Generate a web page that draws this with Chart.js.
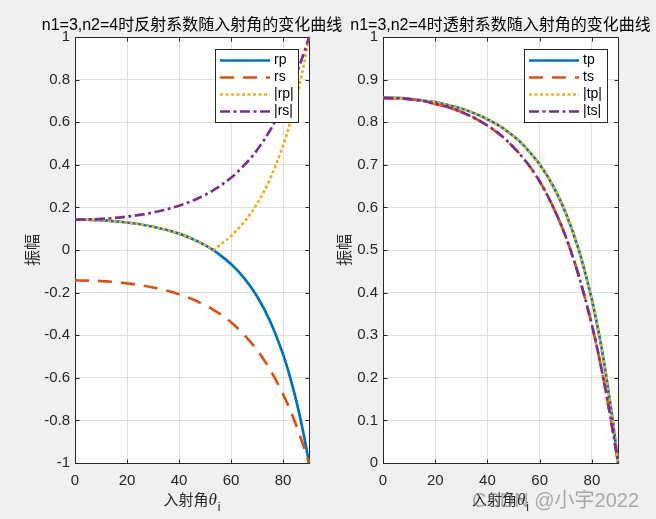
<!DOCTYPE html>
<html><head><meta charset="utf-8">
<script src="https://cdn.jsdelivr.net/npm/chart.js@4/dist/chart.umd.min.js"></script>
<style>
html,body{margin:0;padding:0;background:#f0f0f0;}
#wrap{position:relative;width:656px;height:519px;overflow:hidden;}
canvas{position:absolute;left:0;top:0;}
</style></head><body>
<div id="wrap"><canvas id="c1" width="656" height="519"></canvas><canvas id="c2" width="656" height="519"></canvas></div>
<script>
// ---- data ----
const angles = [0,5,10,15,20,25,30,35,40,45,50,52,53.13,54,55,60,65,70,75,80,82,84,86,88,89,90];
const rp    = [0.143,0.142,0.140,0.135,0.129,0.121,0.109,0.095,0.077,0.053,0.023,0.009,0,-0.007,-0.016,-0.066,-0.131,-0.217,-0.333,-0.489,-0.566,-0.654,-0.754,-0.869,-0.932,-1];
const rs    = [-0.143,-0.144,-0.146,-0.150,-0.157,-0.165,-0.176,-0.190,-0.208,-0.230,-0.259,-0.272,-0.280,-0.287,-0.294,-0.339,-0.397,-0.469,-0.561,-0.676,-0.730,-0.789,-0.854,-0.924,-0.961,-1];
const absRp = [0.143,0.142,0.140,0.135,0.129,0.121,0.109,0.095,0.077,0.053,0.023,0.009,0,0.007,0.016,0.066,0.131,0.217,0.333,0.489,0.566,0.654,0.754,0.869,0.932,1];
const absRs = [0.143,0.144,0.146,0.150,0.157,0.165,0.176,0.190,0.208,0.230,0.259,0.272,0.280,0.287,0.294,0.339,0.397,0.469,0.561,0.676,0.730,0.789,0.854,0.924,0.961,1];
const tp    = [0.857,0.857,0.855,0.851,0.847,0.840,0.832,0.821,0.807,0.790,0.767,0.757,0.750,0.745,0.738,0.701,0.652,0.587,0.500,0.383,0.325,0.260,0.184,0.099,0.051,0];
const ts    = [0.857,0.856,0.854,0.850,0.843,0.835,0.824,0.810,0.792,0.770,0.741,0.728,0.720,0.713,0.706,0.661,0.603,0.531,0.439,0.324,0.270,0.211,0.146,0.076,0.039,0];
const absTp = [0.857,0.857,0.855,0.851,0.847,0.840,0.832,0.821,0.807,0.790,0.767,0.757,0.750,0.745,0.738,0.701,0.652,0.587,0.500,0.383,0.325,0.260,0.184,0.099,0.051,0];
const absTs = [0.857,0.856,0.854,0.850,0.843,0.835,0.824,0.810,0.792,0.770,0.741,0.728,0.720,0.713,0.706,0.661,0.603,0.531,0.439,0.324,0.270,0.211,0.146,0.076,0.039,0];

const xTicks = [0,20,40,60,80];
const yTicksLeft = [-1,-0.8,-0.6,-0.4,-0.2,0,0.2,0.4,0.6,0.8,1];
const yTicksRight = [0,0.1,0.2,0.3,0.4,0.5,0.6,0.7,0.8,0.9,1];
const titleLeft = "n1=3,n2=4时反射系数随入射角的变化曲线";
const titleRight = "n1=3,n2=4时透射系数随入射角的变化曲线";
const legendLeft = ["rp","rs","|rp|","|rs|"];
const legendRight = ["tp","ts","|tp|","|ts|"];
const yLabelText = "振幅";
const xLabelText = "入射角";
const xLabelSym = "θ";
const xLabelSub = "i";
const watermarkText = "CSDN @小宇2022";

// ---- styles ----
const AX = 'rgb(38,38,38)';
const STY = [
  {color:'#0072BD', dash:[]},
  {color:'#D95319', dash:[14,9]},
  {color:'#EDB120', dash:[3,2.5]},
  {color:'#7E2F8E', dash:[10,3.5,3,3.5]}
];
const LATIN = "'Liberation Sans', Arial, 'Noto Sans CJK SC', sans-serif";

function ds(arr, k){
  return {
    data: angles.map((a,i)=>({x:a, y:arr[i]})),
    borderColor: STY[k].color, borderDash: STY[k].dash, borderWidth: 2.7,
    pointRadius: 0, fill: false, cubicInterpolationMode: 'monotone', clip: 4,
    order: 4 - k
  };
}
function fmt(v){ return String(Number(Number(v).toFixed(1))); }

function makePlugin(opt){
  return {
    id: 'deco' + opt.id,
    beforeDraw(chart){
      const a = chart.chartArea, c = chart.ctx;
      c.save(); c.fillStyle = '#fff';
      c.fillRect(a.left, a.top, a.right - a.left, a.bottom - a.top);
      c.restore();
    },
    beforeDatasetsDraw(chart){
      const a = chart.chartArea, c = chart.ctx, sx = chart.scales.x, sy = chart.scales.y;
      c.save(); c.strokeStyle = AX; c.lineWidth = 1;
      c.beginPath();
      const R = Math.round(a.right) + 0.5, T = Math.round(a.top) + 0.5;
      const L = Math.round(a.left) + 0.5, B = Math.round(a.bottom) + 0.5;
      c.moveTo(L, T); c.lineTo(R, T); c.lineTo(R, B);
      const tl = 4;
      xTicks.forEach(v=>{
        const px = Math.round(sx.getPixelForValue(v)) + 0.5;
        c.moveTo(px, B); c.lineTo(px, B - tl);
        c.moveTo(px, T); c.lineTo(px, T + tl);
      });
      opt.yTicks.forEach(v=>{
        const py = Math.round(sy.getPixelForValue(v)) + 0.5;
        c.moveTo(L, py); c.lineTo(L + tl, py);
        c.moveTo(R, py); c.lineTo(R - tl, py);
      });
      c.stroke(); c.restore();
    },
    afterDatasetsDraw(chart){
      const a = chart.chartArea, c = chart.ctx;
      const bw = 83, bh = 73;
      const bx = Math.round(a.right - 11 - bw), by = Math.round(a.top + 12);
      c.save();
      c.fillStyle = '#fff'; c.fillRect(bx, by, bw, bh);
      c.strokeStyle = AX; c.lineWidth = 1; c.strokeRect(bx + 0.5, by + 0.5, bw, bh);
      opt.legend.forEach((t,i)=>{
        const y = by + 11.5 + i * 17;
        c.strokeStyle = STY[i].color; c.lineWidth = 2.7; c.setLineDash(STY[i].dash);
        c.beginPath(); c.moveTo(bx + 5, y); c.lineTo(bx + 55, y); c.stroke();
        c.setLineDash([]);
        c.fillStyle = '#000'; c.font = "14px " + LATIN; c.textBaseline = 'middle'; c.textAlign = 'left';
        c.fillText(t, bx + 59, y);
      });
      c.restore();
    },
    afterDraw(chart){
      const a = chart.chartArea, c = chart.ctx;
      const cx = (a.left + a.right) / 2, cy = (a.top + a.bottom) / 2;
      c.save();
      c.fillStyle = '#000'; c.font = "16px " + LATIN; c.textAlign = 'center'; c.textBaseline = 'alphabetic';
      c.fillText(opt.title, cx, 30);
      c.save(); c.translate(opt.ylx, cy); c.rotate(-Math.PI/2);
      c.fillStyle = AX; c.font = "16px 'Noto Sans CJK SC', sans-serif"; c.textAlign = 'center'; c.textBaseline = 'middle';
      c.fillText(yLabelText, 0, 0); c.restore();
      const f1 = "15px 'Noto Sans CJK SC', sans-serif", f2 = "italic 17px 'Liberation Serif', serif", f3 = "12px " + LATIN;
      c.font = f1; const w1 = c.measureText(xLabelText).width;
      c.font = f2; const w2 = c.measureText(xLabelSym).width;
      c.font = f3; const w3 = c.measureText(xLabelSub).width;
      let x0 = cx - (w1 + w2 + w3 + 1) / 2; const base = 505;
      c.textAlign = 'left'; c.fillStyle = AX;
      c.font = f1; c.fillText(xLabelText, x0, base); x0 += w1;
      c.font = f2; c.fillText(xLabelSym, x0, base); x0 += w2 + 1;
      c.font = f3; c.fillText(xLabelSub, x0, base + 6);
      if (opt.watermark){
        c.font = "20px " + LATIN; c.fillStyle = 'rgba(120,120,120,0.6)';
        c.fillText(watermarkText, 472, 507);
      }
      c.restore();
    }
  };
}

function makeChart(id, sets, yMin, yMax, yTicks, padL, padR, opt){
  return new Chart(document.getElementById(id), {
    type: 'line',
    data: {datasets: sets},
    options: {
      responsive: false, animation: false, devicePixelRatio: 1,
      layout: {padding: {left: padL, right: padR, top: 37, bottom: 0}},
      plugins: {legend: {display: false}, tooltip: {enabled: false}, title: {display: false}},
      scales: {
        x: {
          type: 'linear', min: 0, max: 90,
          afterBuildTicks: s => { s.ticks = xTicks.map(v => ({value: v})); },
          afterFit: s => { s.height = 56; },
          grid: {color: '#dfdfdf', drawTicks: false},
          border: {color: AX, width: 1},
          ticks: {padding: 9, color: AX, font: {family: "'Liberation Sans', Arial", size: 15}, maxRotation: 0, autoSkip: false}
        },
        y: {
          type: 'linear', min: yMin, max: yMax,
          afterBuildTicks: s => { s.ticks = yTicks.map(v => ({value: v})); },
          afterFit: s => { s.width = opt.yw; },
          grid: {color: '#dfdfdf', drawTicks: false},
          border: {color: AX, width: 1},
          ticks: {padding: 5, color: AX, font: {family: "'Liberation Sans', Arial", size: 15}, autoSkip: false, callback: v => fmt(v)}
        }
      }
    },
    plugins: [makePlugin(opt)]
  });
}

makeChart('c1', [ds(rp,0), ds(rs,1), ds(absRp,2), ds(absRs,3)], -1, 1, yTicksLeft, 0, 347,
  {id: 1, yw: 75, yTicks: yTicksLeft, legend: legendLeft, title: titleLeft, ylx: 32, watermark: false});
makeChart('c2', [ds(tp,0), ds(ts,1), ds(absTp,2), ds(absTs,3)], 0, 1, yTicksRight, 0, 38,
  {id: 2, yw: 383, yTicks: yTicksRight, legend: legendRight, title: titleRight, ylx: 344, watermark: true});
</script>
</body></html>
